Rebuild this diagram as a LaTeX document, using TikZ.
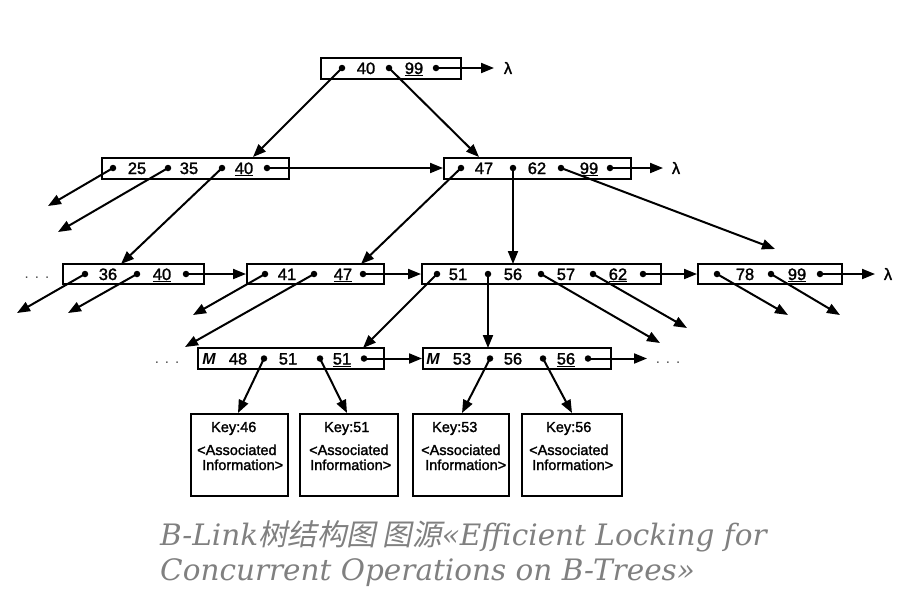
\documentclass[tikz,border=0pt]{standalone}
\usepackage{fontspec}
\setmainfont{Liberation Sans}
\newfontfamily\diagfont{Liberation Sans}[FakeBold=1.6]
\newfontfamily\capfont{DejaVu Serif}
\newfontfamily\cjkfont{Noto Sans CJK SC}[FakeSlant=0.2]
\usetikzlibrary{arrows.meta}
\definecolor{capgray}{RGB}{128,128,128}
\begin{document}
\begin{tikzpicture}[x=1pt,y=-1pt,
  bx/.style={draw, line width=2pt, rectangle, inner sep=0pt, minimum height=21pt},
  dotpt/.style={circle, fill=black, inner sep=0pt, minimum size=6.5pt},
  kt/.style={font=\diagfont\fontsize{16.5}{16.5}\selectfont, inner sep=0pt, anchor=base},
  lk/.style={line width=2pt, -{Triangle[length=13pt,width=10pt]}},
  dbox/.style={draw, line width=2pt, inner sep=0pt, minimum height=82pt},
  dt/.style={font=\diagfont\fontsize{14.5}{14.5}\selectfont, inner sep=0pt, anchor=base west},
  captext/.style={font=\capfont\itshape\fontsize{29.5}{29.5}\selectfont, text=capgray, inner sep=0pt, anchor=base west},
  mk/.style={font=\fontsize{16}{16}\selectfont\bfseries\itshape, inner sep=0pt, anchor=base},
  ell/.style={font=\fontsize{15}{15}\selectfont, text=black!70, inner sep=0pt, anchor=base}
]
\useasboundingbox (0,0) rectangle (910,614);

% ---------- root ----------
\node[bx, minimum width=140pt] (R) at (391,68) {};
\node[dotpt] (r1) at (342,68) {};
\node[dotpt] (r2) at (389,68) {};
\node[dotpt] (r3) at (436,68) {};
\node[kt] (tr1) at (366,74) {40};
\node[kt] (tr2) at (414,74) {\underline{99}};
\node[kt, anchor=center] (lamR) at (508,68) {λ};
\coordinate (eR) at (494,68);
\draw[lk] (r3.center) -- (eR);

% ---------- level 2 ----------
\node[bx, minimum width=187pt] (A) at (195.5,168) {};
\node[dotpt] (a1) at (113,168) {};
\node[dotpt] (a2) at (168,168) {};
\node[dotpt] (a3) at (222,168) {};
\node[dotpt] (a4) at (267,168) {};
\node[kt] (ta1) at (137,174) {25};
\node[kt] (ta2) at (189,174) {35};
\node[kt] (ta3) at (244,174) {\underline{40}};

\node[bx, minimum width=187pt] (B) at (537.5,168) {};
\node[dotpt] (b1) at (461,168) {};
\node[dotpt] (b2) at (513,168) {};
\node[dotpt] (b3) at (561,168) {};
\node[dotpt] (b4) at (610,168) {};
\node[kt] (tb1) at (484,174) {47};
\node[kt] (tb2) at (537,174) {62};
\node[kt] (tb3) at (589,174) {\underline{99}};
\node[kt, anchor=center] (lamB) at (676,168) {λ};
\coordinate (eB) at (663,168);
\draw[lk] (b4.center) -- (eB);

\coordinate (rA) at (253,157);
\coordinate (rB) at (479,157);
\draw[lk] (r1.center) -- (rA);
\draw[lk] (r2.center) -- (rB);
\draw[lk] (a4.center) -- (B.west);

\coordinate (ea1) at (48,206);
\coordinate (ea2) at (58,232);
\coordinate (ea3) at (121,264);
\coordinate (eb1) at (361,264);
\coordinate (eb2) at (513,264);
\coordinate (eb3) at (775,249);
\draw[lk] (a1.center) -- (ea1);
\draw[lk] (a2.center) -- (ea2);
\draw[lk] (a3.center) -- (ea3);
\draw[lk] (b1.center) -- (eb1);
\draw[lk] (b2.center) -- (eb2);
\draw[lk] (b3.center) -- (eb3);

% ---------- level 3 ----------
\node[ell] (dl3) at (37,278) {.\hspace{6pt}.\hspace{6pt}.};
\node[bx, minimum width=141pt, minimum height=20pt] (C) at (133.5,274) {};
\node[dotpt] (c1) at (85,274) {};
\node[dotpt] (c2) at (137,274) {};
\node[dotpt] (c3) at (186,274) {};
\node[kt] (tc1) at (108,280) {36};
\node[kt] (tc2) at (162,280) {\underline{40}};

\node[bx, minimum width=137pt, minimum height=20pt] (D) at (315.5,274) {};
\node[dotpt] (d1) at (265,274) {};
\node[dotpt] (d2) at (314,274) {};
\node[dotpt] (d3) at (363,274) {};
\node[kt] (td1) at (287,280) {41};
\node[kt] (td2) at (343,280) {\underline{47}};

\node[bx, minimum width=239pt, minimum height=20pt] (E) at (541.5,274) {};
\node[dotpt] (e1) at (437,274) {};
\node[dotpt] (e2) at (488,274) {};
\node[dotpt] (e3) at (541,274) {};
\node[dotpt] (e4) at (593,274) {};
\node[dotpt] (e5) at (643,274) {};
\node[kt] (te1) at (458,280) {51};
\node[kt] (te2) at (513,280) {56};
\node[kt] (te3) at (566,280) {57};
\node[kt] (te4) at (618,280) {\underline{62}};

\node[bx, minimum width=144pt, minimum height=20pt] (F) at (770,274) {};
\node[dotpt] (f1) at (717,274) {};
\node[dotpt] (f2) at (771,274) {};
\node[dotpt] (f3) at (820,274) {};
\node[kt] (tf1) at (745,280) {78};
\node[kt] (tf2) at (797,280) {\underline{99}};
\node[kt, anchor=center] (lamF) at (888,274) {λ};
\coordinate (eF) at (875,274);
\draw[lk] (f3.center) -- (eF);

\draw[lk] (c3.center) -- (D.west);
\draw[lk] (d3.center) -- (E.west);
\draw[lk] (e5.center) -- (F.west);

\coordinate (ec1) at (17,313);
\coordinate (ec2) at (68,313);
\coordinate (ed1) at (193,315);
\coordinate (ed2) at (185,347);
\coordinate (ee1) at (363,348);
\coordinate (ee2) at (488,348);
\coordinate (ee3) at (660,343);
\coordinate (ee4) at (687,328);
\coordinate (ef1) at (788,315);
\coordinate (ef2) at (840,315);
\draw[lk] (c1.center) -- (ec1);
\draw[lk] (c2.center) -- (ec2);
\draw[lk] (d1.center) -- (ed1);
\draw[lk] (d2.center) -- (ed2);
\draw[lk] (e1.center) -- (ee1);
\draw[lk] (e2.center) -- (ee2);
\draw[lk] (e3.center) -- (ee3);
\draw[lk] (e4.center) -- (ee4);
\draw[lk] (f1.center) -- (ef1);
\draw[lk] (f2.center) -- (ef2);

% ---------- level 4 (leaves) ----------
\node[ell] (dl4) at (167,363) {.\hspace{6pt}.\hspace{6pt}.};
\node[bx, minimum width=186pt] (G) at (291,358.5) {};
\node[mk] (mG) at (209,364.5) {M};
\node[kt] (tg1) at (238,364.5) {48};
\node[dotpt] (g1) at (264,358.5) {};
\node[kt] (tg2) at (288,364.5) {51};
\node[dotpt] (g2) at (320,358.5) {};
\node[kt] (tg3) at (342,364.5) {\underline{51}};
\node[dotpt] (g3) at (364,358.5) {};

\node[bx, minimum width=188pt] (H) at (517,358.5) {};
\node[mk] (mH) at (433,364.5) {M};
\node[kt] (th1) at (462,364.5) {53};
\node[dotpt] (h1) at (490,358.5) {};
\node[kt] (th2) at (513,364.5) {56};
\node[dotpt] (h2) at (543,358.5) {};
\node[kt] (th3) at (566,364.5) {\underline{56}};
\node[dotpt] (h3) at (588,358.5) {};
\node[ell] (dr4) at (668,363) {.\hspace{6pt}.\hspace{6pt}.};
\coordinate (eH) at (647,358.5);
\draw[lk] (h3.center) -- (eH);
\draw[lk] (g3.center) -- (H.west);

% ---------- data records ----------
\node[dbox, minimum width=97pt] (K1) at (239.5,455) {};
\node[dbox, minimum width=98pt] (K2) at (349,455) {};
\node[dbox, minimum width=96pt] (K3) at (461,455) {};
\node[dbox, minimum width=100pt] (K4) at (572,455) {};

\node[dt] (k1a) at (211,432) {Key:46};
\node[dt] (k1b) at (197,455) {<Associated};
\node[dt] (k1c) at (202,470) {Information>};
\node[dt] (k2a) at (324,432) {Key:51};
\node[dt] (k2b) at (309,455) {<Associated};
\node[dt] (k2c) at (310,470) {Information>};
\node[dt] (k3a) at (432,432) {Key:53};
\node[dt] (k3b) at (421,455) {<Associated};
\node[dt] (k3c) at (425,470) {Information>};
\node[dt] (k4a) at (546,432) {Key:56};
\node[dt] (k4b) at (529,455) {<Associated};
\node[dt] (k4c) at (532,470) {Information>};

\coordinate (eg1) at (238,413);
\coordinate (eg2) at (347,413);
\coordinate (eh1) at (462,413);
\coordinate (eh2) at (572,413);
\draw[lk] (g1.center) -- (eg1);
\draw[lk] (g2.center) -- (eg2);
\draw[lk] (h1.center) -- (eh1);
\draw[lk] (h2.center) -- (eh2);

% ---------- caption ----------
\node[captext] (cap1) at (160,545) {B-Link{\cjkfont 树结构图 图源}«Efficient Locking for};
\node[captext] (cap2) at (160,580) {Concurrent Operations on B-Trees»};
\end{tikzpicture}
\end{document}
